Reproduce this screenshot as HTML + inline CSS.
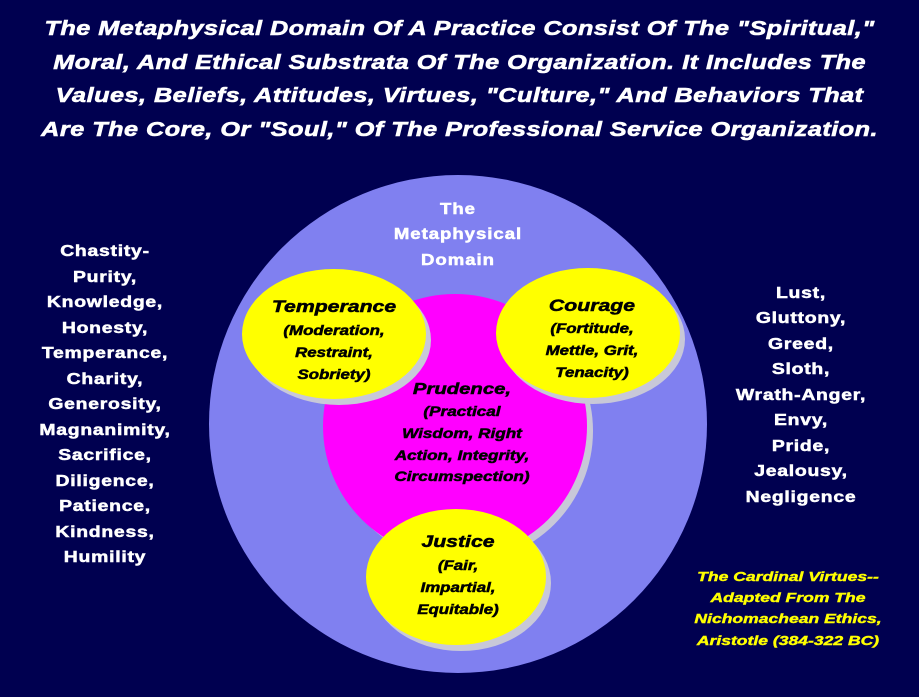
<!DOCTYPE html>
<html><head><style>
body{margin:0;width:919px;height:697px;background:#000050;overflow:hidden;font-family:"Liberation Sans",sans-serif;}
svg{position:absolute;left:0;top:0}
.t{position:absolute;left:0;width:919px;top:12px;text-align:center;color:#fff;font-weight:bold;font-style:italic;font-size:20.5px;line-height:33.5px;letter-spacing:0.4px;transform:scaleX(1.23);transform-origin:459px 0;-webkit-text-stroke:0.6px #fff}
</style></head><body>
<svg width="919" height="697" font-family="Liberation Sans, sans-serif" font-weight="bold">
<circle cx="458" cy="424" r="249" fill="#8080f0"/>
<circle cx="461" cy="431" r="132" fill="#c8c8d8"/>
<circle cx="455" cy="426" r="132" fill="#ff00ff"/>
<ellipse cx="339" cy="340" rx="92" ry="65" fill="#c8c8d8"/>
<ellipse cx="334" cy="334" rx="92" ry="65" fill="#ffff00"/>
<ellipse cx="593" cy="339" rx="92" ry="65" fill="#c8c8d8"/>
<ellipse cx="588" cy="333" rx="92" ry="65" fill="#ffff00"/>
<ellipse cx="461" cy="583" rx="90" ry="68" fill="#c8c8d8"/>
<ellipse cx="456" cy="577" rx="90" ry="68" fill="#ffff00"/>
<g fill="#fff" stroke="#fff" stroke-width="0.5" font-size="15.5" text-anchor="middle" letter-spacing="0.8" transform="translate(458,0) scale(1.2,1) translate(-458,0)">
<text x="458" y="214">The</text><text x="458" y="239">Metaphysical</text><text x="458" y="265">Domain</text>
</g>
<g fill="#000" stroke="#000" stroke-width="0.5" font-style="italic" text-anchor="middle">
<g transform="translate(334,0) scale(1.25,1) translate(-334,0)">
<text x="334" y="312" font-size="17">Temperance</text>
<text x="334" y="335" font-size="13.5">(Moderation,</text><text x="334" y="357" font-size="13.5">Restraint,</text><text x="334" y="379" font-size="13.5">Sobriety)</text></g>
<g transform="translate(592,0) scale(1.25,1) translate(-592,0)">
<text x="592" y="311" font-size="17">Courage</text>
<text x="592" y="333" font-size="13.5">(Fortitude,</text><text x="592" y="355" font-size="13.5">Mettle, Grit,</text><text x="592" y="377" font-size="13.5">Tenacity)</text></g>
<g transform="translate(462,0) scale(1.27,1) translate(-462,0)">
<text x="462" y="394" font-size="16">Prudence,</text>
<text x="462" y="416" font-size="13.5">(Practical</text><text x="462" y="438" font-size="13.5">Wisdom, Right</text><text x="462" y="460" font-size="13.5">Action, Integrity,</text><text x="462" y="481" font-size="13.5">Circumspection)</text></g>
<g transform="translate(458,0) scale(1.25,1) translate(-458,0)">
<text x="458" y="547" font-size="17">Justice</text>
<text x="458" y="570" font-size="13.5">(Fair,</text><text x="458" y="592" font-size="13.5">Impartial,</text><text x="458" y="614" font-size="13.5">Equitable)</text></g>
</g>
<g fill="#fff" stroke="#fff" stroke-width="0.5" font-size="15.5" text-anchor="middle" letter-spacing="0.6">
<g transform="translate(105,0) scale(1.25,1) translate(-105,0)">
<text x="105" y="256">Chastity-</text><text x="105" y="282">Purity,</text><text x="105" y="307">Knowledge,</text><text x="105" y="333">Honesty,</text><text x="105" y="358">Temperance,</text><text x="105" y="384">Charity,</text><text x="105" y="409">Generosity,</text><text x="105" y="435">Magnanimity,</text><text x="105" y="460">Sacrifice,</text><text x="105" y="486">Diligence,</text><text x="105" y="511">Patience,</text><text x="105" y="537">Kindness,</text><text x="105" y="562">Humility</text></g>
<g transform="translate(801,0) scale(1.25,1) translate(-801,0)">
<text x="801" y="298">Lust,</text><text x="801" y="323">Gluttony,</text><text x="801" y="349">Greed,</text><text x="801" y="374">Sloth,</text><text x="801" y="400">Wrath-Anger,</text><text x="801" y="425">Envy,</text><text x="801" y="451">Pride,</text><text x="801" y="476">Jealousy,</text><text x="801" y="502">Negligence</text></g>
</g>
<g fill="#ffff00" stroke="#ffff00" stroke-width="0.4" font-size="13" font-style="italic" text-anchor="middle" transform="translate(788,0) scale(1.35,1) translate(-788,0)">
<text x="788" y="581">The Cardinal Virtues--</text><text x="788" y="602">Adapted From The</text><text x="788" y="623">Nichomachean Ethics,</text><text x="788" y="645">Aristotle (384-322 BC)</text>
</g>
</svg>
<div class="t">The Metaphysical Domain Of A Practice Consist Of The "Spiritual,"<br>Moral, And Ethical Substrata Of The Organization. It Includes The<br>Values, Beliefs, Attitudes, Virtues, "Culture," And Behaviors That<br>Are The Core, Or "Soul," Of The Professional Service Organization.</div>
</body></html>
